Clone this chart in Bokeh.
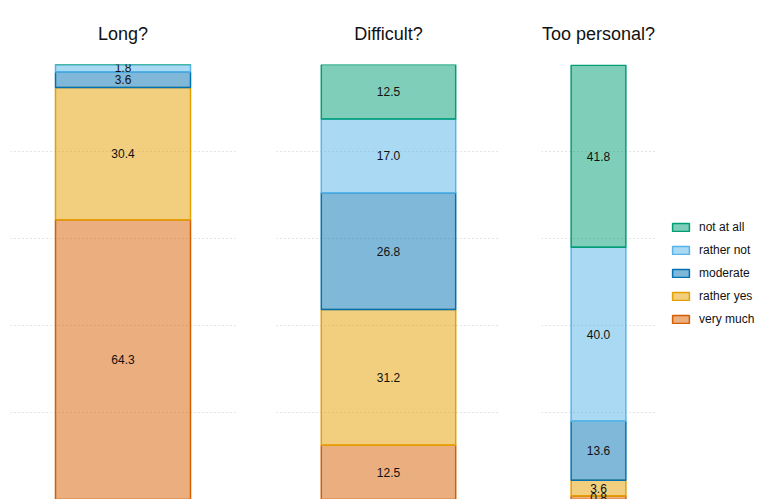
from bokeh.plotting import figure
from bokeh.layouts import row
from bokeh.models import ColumnDataSource, Range1d, FactorRange, Grid, FixedTicker, Legend, LegendItem
from bokeh.core.properties import value
from bokeh.embed import file_html
from bokeh.resources import INLINE

# ---- data ----
levels = ["very much", "rather yes", "moderate", "rather not", "not at all"]  # bottom -> top
colors = ["#D55E00", "#E69F00", "#0072B2", "#56B4E9", "#009E73"]
questions = ["Long?", "Difficult?", "Too personal?"]
long_vals = [64.3, 30.4, 3.6, 1.8, 0.0]
difficult_vals = [12.5, 31.2, 26.8, 17.0, 12.5]
personal_vals = [0.8, 3.6, 13.6, 40.0, 41.8]
grid_ticks = [0, 20, 40, 60, 80, 100]

FONT = "Liberation Sans"

panel_specs = [
    # question, values, fig width, border left, border right, bar width
    (questions[0], long_vals, 255, 10, 20, 0.6),
    (questions[1], difficult_vals, 265, 21, 20, 0.6),
    (questions[2], personal_vals, 145, 21, 10, 0.48),
]

H = 499


def stack(vals):
    bottoms, tops = [], []
    acc = 0.0
    for v in vals:
        bottoms.append(acc)
        acc += v
        tops.append(acc)
    return bottoms, tops


figs = []
for q, vals, w, bl, br, bw in panel_specs:
    p = figure(width=w, height=H, x_range=FactorRange(q, range_padding=0),
               y_range=Range1d(0.0, 100.0), output_backend="svg", toolbar_location=None,
               x_axis_location=None, y_axis_location=None,
               min_border_left=bl, min_border_right=br, min_border_top=64, min_border_bottom=0,
               outline_line_color=None, title=q)
    p.title.align = "center"
    p.title.text_font = FONT
    p.title.text_font_size = "18px"
    p.title.text_font_style = "normal"
    p.title.text_color = "#111111"
    p.title.standoff = 42
    p.center = [r for r in p.center if not isinstance(r, Grid)]
    p.add_layout(Grid(dimension=1, ticker=FixedTicker(ticks=grid_ticks),
                      grid_line_color="#c8c8c8", grid_line_dash="1 3", grid_line_width=1))
    bottoms, tops = stack(vals)
    for i, (lev, c) in enumerate(zip(levels, colors)):
        src = ColumnDataSource(dict(x=[q], bottom=[bottoms[i]], top=[tops[i]]))
        p.vbar(x="x", bottom="bottom", top="top", width=bw, source=src,
               fill_color=c, fill_alpha=0.5, line_color=c, line_width=1.5)
    lsrc = ColumnDataSource(dict(
        x=[q] * len(vals),
        mid=[(b + t) / 2 for b, t in zip(bottoms, tops)],
        lab=[("%.1f" % v) if v > 0 else "" for v in vals],
    ))
    p.text(x="x", y="mid", text="lab", source=lsrc, text_align="center", text_baseline="middle",
           text_font=value(FONT), text_font_size="12px", text_color="#111111")
    figs.append(p)

# legend panel (hidden copies of the last panel's bars supply the legend glyphs)
lg = figure(width=92, height=H, x_range=FactorRange(questions[2], range_padding=0),
            y_range=Range1d(0.0, 100.0), output_backend="svg", toolbar_location=None,
            x_axis_location=None, y_axis_location=None,
            min_border_left=0, min_border_right=0, min_border_top=0, min_border_bottom=0,
            outline_line_color=None)
lg.center = [r for r in lg.center if not isinstance(r, Grid)]
bottoms, tops = stack(personal_vals)
items = []
for i, (lev, c) in enumerate(zip(levels, colors)):
    src = ColumnDataSource(dict(x=[questions[2]], bottom=[bottoms[i]], top=[tops[i]]))
    r = lg.vbar(x="x", bottom="bottom", top="top", width=0.5, source=src,
                fill_color=c, fill_alpha=0.5, line_color=c, line_width=1.5, visible=False)
    items.append(LegendItem(label=lev, renderers=[r]))
items = items[::-1]
legend = Legend(items=items, location=(5, 173), padding=0, margin=0,
                border_line_color=None, background_fill_alpha=0,
                glyph_width=21, glyph_height=10, label_standoff=8, spacing=9,
                label_text_font=FONT, label_text_font_size="12px", label_text_color="#111111")
lg.add_layout(legend, "center")

layout = row(*figs, lg)
open("out.html", "w").write(file_html(layout, INLINE))
